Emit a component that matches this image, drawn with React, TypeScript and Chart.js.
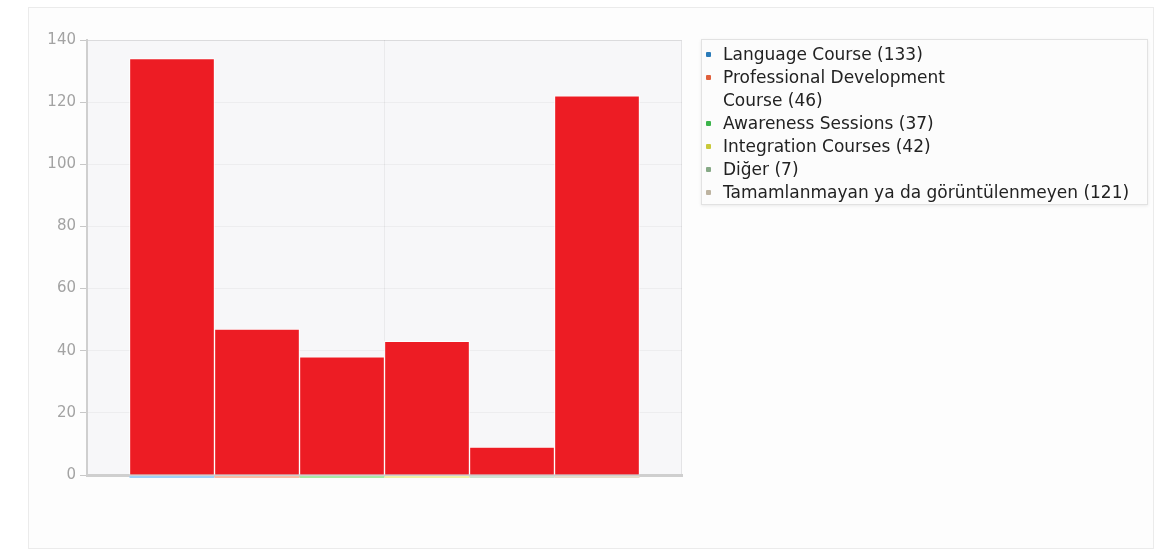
import React, { useEffect, useRef } from "react";
import { Chart, registerables } from "chart.js";

Chart.register(...registerables);

const categories = [
  "Language Course",
  "Professional Development Course",
  "Awareness Sessions",
  "Integration Courses",
  "Diğer",
  "Tamamlanmayan ya da görüntülenmeyen",
];
const legendCounts = [133, 46, 37, 42, 7, 121];
const barValues = [134, 47, 38, 43, 9, 122];
const markerColors = ["#2b7bb9", "#e0603c", "#3cb44b", "#c9c93a", "#86a986", "#bdb3a0"];
const underColors = ["#9fd0f7", "#f9bba4", "#a9e8a4", "#f1f1a6", "#d2e2d2", "#e6dccb"];
const yTicks = [0, 20, 40, 60, 80, 100, 120, 140];

const plotDecor = {
  id: "plotDecor",
  beforeDraw(chart: any) {
    const { ctx, chartArea: a } = chart;
    ctx.save();
    ctx.fillStyle = "#f7f7f9";
    ctx.fillRect(a.left, a.top, a.width, a.height);
    ctx.strokeStyle = "#e4e4e6";
    ctx.lineWidth = 1;
    ctx.strokeRect(a.left + 0.5, a.top + 0.5, a.width - 1, a.height - 1);
    ctx.restore();
  },
  afterDatasetsDraw(chart: any) {
    const { ctx } = chart;
    const meta = chart.getDatasetMeta(0);
    ctx.save();
    meta.data.forEach((bar: any, i: number) => {
      const p = bar.getProps(["x", "width", "base"], true);
      ctx.fillStyle = underColors[i];
      ctx.fillRect(p.x - p.width / 2, p.base + 1.5, p.width, 2);
    });
    ctx.restore();
  },
};

export default function App() {
  const ref = useRef<HTMLCanvasElement>(null);
  useEffect(() => {
    if (!ref.current) return;
    const chart = new Chart(ref.current, {
      type: "bar",
      data: {
        datasets: [
          {
            label: "values",
            data: barValues.map((v, i) => ({ x: i, y: v })),
            backgroundColor: "#ed1c24",
            borderColor: "rgba(255,255,255,0.85)",
            borderWidth: 1,
            barPercentage: 1,
            categoryPercentage: 1,
          },
        ],
      },
      options: {
        responsive: false,
        animation: false,
        layout: { padding: { left: 37, top: 40, right: 18, bottom: 25 } },
        plugins: { legend: { display: false }, tooltip: { enabled: false } },
        scales: {
          x: {
            type: "linear",
            offset: false,
            min: -1,
            max: 6,
            ticks: { display: false },
            grid: { color: "rgba(0,0,0,0.05)", drawTicks: false, offset: false },
            border: { color: "#cfcfcf", width: 3 },
            afterBuildTicks: (s: any) => {
              s.ticks = [{ value: 2.5 }];
            },
            afterFit: (s: any) => {
              s.height = 0;
            },
          },
          y: {
            min: 0,
            max: 140,
            afterBuildTicks: (s: any) => {
              s.ticks = yTicks.map((v) => ({ value: v }));
            },
            ticks: {
              color: "#a3a3a3",
              font: { family: "DejaVu Sans", size: 15 },
              padding: 4,
            },
            grid: { color: "rgba(0,0,0,0.04)", tickLength: 7, tickColor: "#c8c8c8" },
            border: { color: "#cfcfcf", width: 2 },
            afterFit: (s: any) => {
              s.width = 50;
            },
          },
        },
      },
      plugins: [plotDecor],
    } as any);
    return () => chart.destroy();
  }, []);

  const legendLines: { text: string; color: string | null }[] = [];
  categories.forEach((c, i) => {
    const label = `${c} (${legendCounts[i]})`;
    if (i === 1) {
      legendLines.push({ text: "Professional Development", color: markerColors[i] });
      legendLines.push({ text: `Course (${legendCounts[i]})`, color: null });
    } else {
      legendLines.push({ text: label, color: markerColors[i] });
    }
  });

  return (
    <div style={{ position: "absolute", left: 0, top: 0, width: 1159, height: 550 }}>
      <div
        style={{
          position: "absolute",
          left: 28,
          top: 7,
          width: 1124,
          height: 540,
          border: "1px solid #ebebeb",
          background: "#fdfdfd",
        }}
      />
      <canvas
        ref={ref}
        width={700}
        height={500}
        style={{ position: "absolute", left: 0, top: 0, width: 700, height: 500 }}
      />
      <div
        style={{
          position: "absolute",
          left: 701,
          top: 39,
          width: 447,
          height: 166,
          border: "1px solid #e2e2e2",
          boxShadow: "0 1px 3px rgba(0,0,0,0.08)",
          background: "#fcfcfc",
          boxSizing: "border-box",
          paddingTop: 3,
          fontFamily: "'DejaVu Sans', sans-serif",
          fontSize: 17,
          color: "#222",
        }}
      >
        {legendLines.map((l, i) => (
          <div key={i} style={{ position: "relative", height: 23, lineHeight: "23px", paddingLeft: 21, whiteSpace: "nowrap" }}>
            {l.color && (
              <span
                style={{
                  position: "absolute",
                  left: 4,
                  top: 9,
                  width: 5,
                  height: 5,
                  borderRadius: 1,
                  background: l.color,
                }}
              />
            )}
            {l.text}
          </div>
        ))}
      </div>
    </div>
  );
}
